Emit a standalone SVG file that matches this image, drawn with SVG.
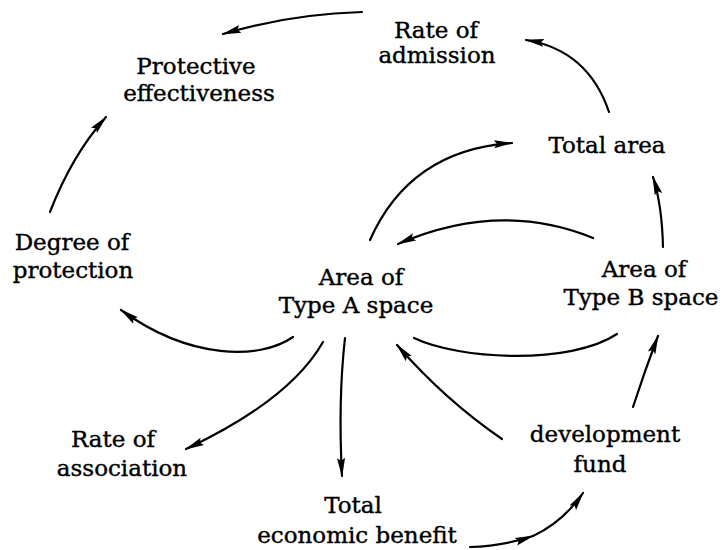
<svg xmlns="http://www.w3.org/2000/svg" width="723" height="550" viewBox="0 0 723 550">
<style>
text{font-family:"DejaVu Serif","Liberation Serif",serif;font-size:23px;fill:#000;stroke:#000;stroke-width:0.4;text-anchor:middle}
.c{fill:none;stroke:#000;stroke-width:2.2;stroke-linecap:round}
</style>
<defs>
<marker id="ah" markerUnits="userSpaceOnUse" markerWidth="24" markerHeight="12" viewBox="-22 -6 24 12" refX="0" refY="0" orient="auto">
<path d="M1.5,0 L-18,-4 L-15,0 L-18,4 Z" fill="#000"/>
</marker>
</defs>
<rect width="723" height="550" fill="#fff"/>
<g id="rate-of-admission"><text x="436" y="38">Rate of</text><text x="437" y="63">admission</text></g>
<g id="protective-effectiveness"><text x="196" y="74">Protective</text><text x="199" y="101">effectiveness</text></g>
<g id="total-area"><text x="607" y="153">Total area</text></g>
<g id="degree-of-protection"><text x="72" y="250">Degree of</text><text x="73" y="278">protection</text></g>
<g id="area-type-a"><text x="361" y="285">Area of</text><text x="356" y="313">Type A space</text></g>
<g id="area-type-b"><text x="644" y="277">Area of</text><text x="641" y="305">Type B space</text></g>
<g id="rate-of-association"><text x="113" y="447">Rate of</text><text x="122" y="476">association</text></g>
<g id="development-fund"><text x="605" y="442">development</text><text x="600" y="472">fund</text></g>
<g id="total-economic-benefit"><text x="353" y="513">Total</text><text x="357" y="543">economic benefit</text></g>
<g id="connectors">
<path class="c" d="M362,12 Q290,14 223,34" marker-end="url(#ah)"/>
<path class="c" d="M609,112 Q588,50 526,40" marker-end="url(#ah)"/>
<path class="c" d="M50,212 Q72,155 106,117" marker-end="url(#ah)"/>
<path class="c" d="M293,337 C260,360 190,360 121,310" marker-end="url(#ah)"/>
<path class="c" d="M370,240 Q410,150 512,143" marker-end="url(#ah)"/>
<path class="c" d="M593,238 Q500,200 398,244" marker-end="url(#ah)"/>
<path class="c" d="M663,247 Q662,205 653,177" marker-end="url(#ah)"/>
<path class="c" d="M414,338 C460,360 570,365 617,334"/>
<path class="c" d="M502,439 Q445,400 397,345" marker-end="url(#ah)"/>
<path class="c" d="M323,342 Q290,400 186,449" marker-end="url(#ah)"/>
<path class="c" d="M345,338 Q338,400 342,476" marker-end="url(#ah)"/>
<path class="c" d="M633,407 Q645,370 658,336" marker-end="url(#ah)"/>
<path class="c" d="M470,547 Q503,546 533,536" marker-end="url(#ah)"/>
<path class="c" d="M533,536 Q563,522 583,493" marker-end="url(#ah)"/>
</g>
</svg>
